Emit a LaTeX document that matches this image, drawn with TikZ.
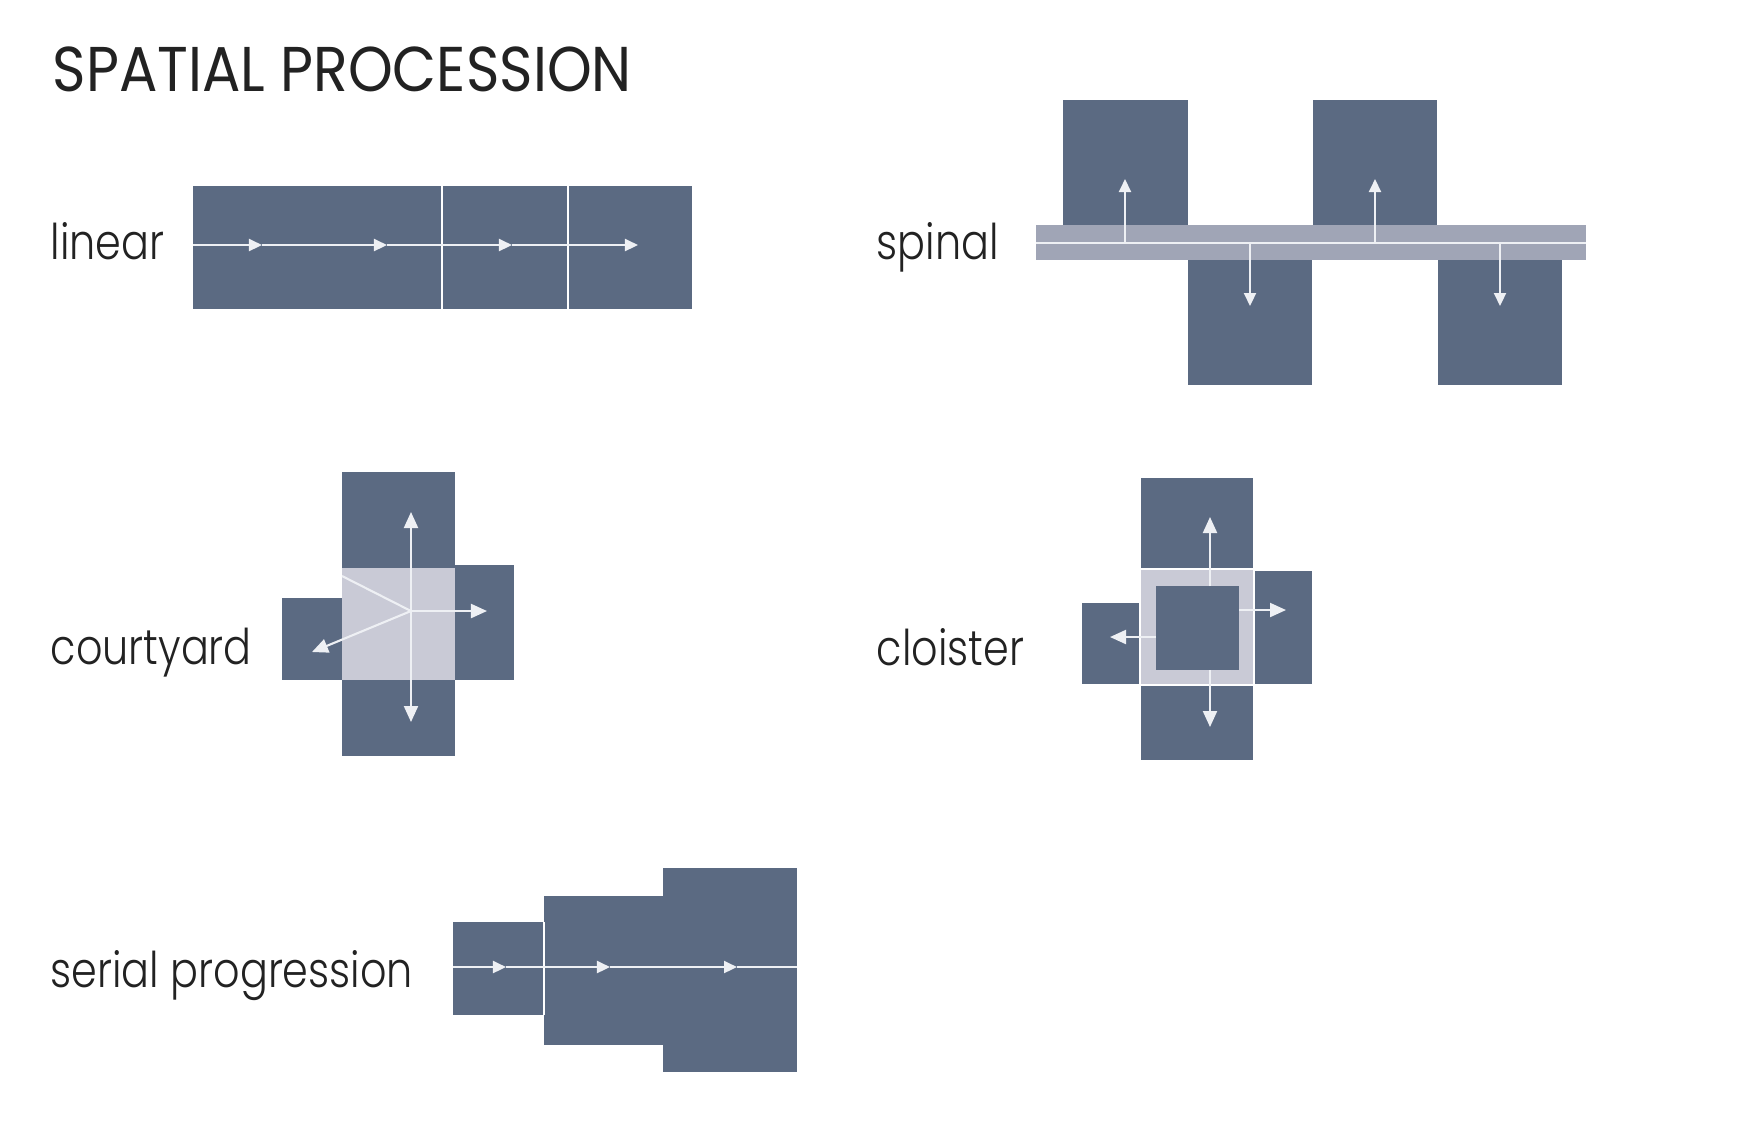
\documentclass[tikz,border=0pt]{standalone}
\usepackage{fontspec}
\setmainfont{Poppins}
\newfontfamily\labelfont{Poppins Light}
\usetikzlibrary{arrows.meta}

\definecolor{roomblue}{HTML}{5B6A82}
\definecolor{spinegrey}{HTML}{A0A5B6}
\definecolor{courtgrey}{HTML}{C9CAD6}
\definecolor{pathwhite}{HTML}{EEF0F4}
\definecolor{inkgrey}{HTML}{222222}

\newcommand{\narrow}[2][0.84]{\scalebox{#1}[1]{#2}}

\tikzset{
  room/.style={fill=roomblue},
  cloroom/.style={fill=roomblue, draw=white, line width=0.4pt},
  walk/.style={draw=pathwhite, line width=0.6pt},
  walkarrow/.style={walk, -{Triangle[length=1.3mm,width=1.2mm]}},
  bigarrow/.style={walk, -{Triangle[length=1.6mm,width=1.4mm]}},
  seam/.style={draw=white, line width=0.4pt},
  typelabel/.style={anchor=base west, inner sep=0, text=inkgrey,
    font=\labelfont\fontsize{14}{17}\selectfont},
}

\begin{document}
\begin{tikzpicture}[x=0.01cm, y=-0.01cm]
  \useasboundingbox (0,0) rectangle (1745,1120);

  % Title
  \node[anchor=base west, inner sep=0, text=inkgrey,
    font=\fontsize{18}{22}\selectfont] (title) at (52,91) {\narrow[0.9]{SPATIAL PROCESSION}};

  % Linear
  \node[typelabel] (linear) at (50,259) {\narrow{linear}};
  \fill[room] (193,186) rectangle (692,309);
  \draw[seam] (442,186) -- (442,309);
  \draw[seam] (568,186) -- (568,309);
  \foreach \a/\b in {193/262, 262/387, 387/512, 512/638}
    \draw[walkarrow] (\a,245) -- (\b,245);

  % Spinal
  \node[typelabel] (spinal) at (876,259) {\narrow{spinal}};
  \fill[room] (1063,100) rectangle (1188,226);
  \fill[room] (1313,100) rectangle (1437,226);
  \fill[room] (1188,260) rectangle (1312,385);
  \fill[room] (1438,260) rectangle (1562,385);
  \fill[spinegrey] (1036,225) rectangle (1586,260);
  \draw[walk] (1036,243) -- (1586,243);
  \foreach \x in {1125,1375}
    \draw[walkarrow] (\x,243) -- (\x,179);
  \foreach \x in {1250,1500}
    \draw[walkarrow] (\x,243) -- (\x,306);

  % Courtyard
  \node[typelabel] (courtyard) at (50,664) {\narrow{courtyard}};
  \fill[room] (342,472) rectangle (455,568);
  \fill[room] (455,565) rectangle (514,680);
  \fill[room] (282,598) rectangle (342,680);
  \fill[room] (342,680) rectangle (455,756);
  \fill[courtgrey] (342,568) rectangle (455,680);
  \coordinate (hub) at (411,611);
  \draw[walk] (342,576) -- (hub);
  \draw[bigarrow] (hub) -- (411,512);
  \draw[bigarrow] (hub) -- (411,722);
  \draw[bigarrow] (hub) -- (487,611);
  \draw[bigarrow] (hub) -- (312,652);

  % Cloister
  \node[typelabel] (cloister) at (876,665) {\narrow{cloister}};
  \fill[cloroom] (1140,477) rectangle (1254,569);
  \fill[cloroom] (1254,570) rectangle (1313,685);
  \fill[cloroom] (1081,602) rectangle (1140,685);
  \fill[cloroom] (1140,685) rectangle (1254,761);
  \filldraw[fill=courtgrey, draw=white, line width=0.4pt] (1140,569) rectangle (1254,685);
  \fill[room] (1156,586) rectangle (1239,670);
  \draw[bigarrow] (1210,586) -- (1210,517);
  \draw[bigarrow] (1210,670) -- (1210,727);
  \draw[bigarrow] (1239,610) -- (1286,610);
  \draw[bigarrow] (1156,637) -- (1110,637);

  % Serial progression
  \node[typelabel] (serial) at (50,987) {\narrow{serial progression}};
  \fill[room] (453,922) rectangle (544,1015);
  \fill[room] (544,896) rectangle (664,1045);
  \fill[room] (663,868) rectangle (797,1072);
  \draw[seam] (544,922) -- (544,1015);
  \foreach \a/\b in {453/506, 506/610, 610/737}
    \draw[walkarrow] (\a,967) -- (\b,967);
  \draw[walk] (737,967) -- (797,967);
\end{tikzpicture}
\end{document}
